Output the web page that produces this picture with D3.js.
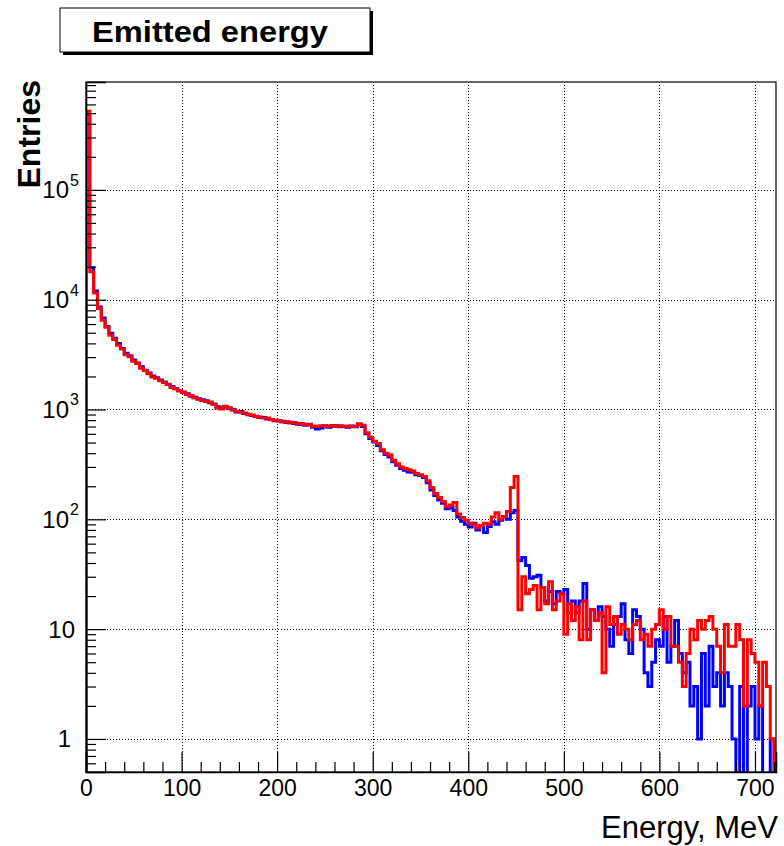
<!DOCTYPE html>
<html><head><meta charset="utf-8">
<script src="https://cdn.jsdelivr.net/npm/d3@7"></script>
<style>
body{margin:0;background:#fff;}
svg{display:block;font-family:"Liberation Sans",Arial,Helvetica,sans-serif;}
</style></head><body>
<div id="chart"></div>
<script>
// histogram contents, 4 MeV bins starting at 0
const binWidth=4;
const blueCounts=[
  490000,19500,12000,8600,6800,5700,4950,4450,4000,3600,3250,3080,2820,2650,2450,2280,2150,2020,1950,1860,
  1780,1700,1620,1550,1490,1440,1390,1320,1290,1250,
  1230,1200,1150,1120,1060,1040,1050,1020,1000,950,960,920,905,880,870,845,845,820,810,790,
  785,780,760,765,745,735,730,720,735,690,665,680,710,690,700,712,695,705,690,708,
  695,730,700,600,545,505,470,420,
  390,370,335,310,290,280,270,268,255,250,240,215,185,165,150,140,125,128,120,105,
  96,90,85,92,80,88,76,86,95,90,98,105,100,115,120,
  42,45,38,29,30,31,24,18,22,17,22,21,23,14,18,14,18,26,10,15,
  12,16,13,10,7,11,13,17,8,6,15,13,10,4,3,
  5,8,7,13,5,7,12,6,4,5,2,3,1,6,2,7,3,4,2,4,
  3,1,0,3,0,2,3,1,2,0,0,1,0
];
const redCounts=[
  520000,18000,11500,8300,6500,5600,4750,4350,3850,3550,3150,3020,2750,2620,2380,2260,2120,1980,1930,1830,
  1760,1690,1590,1540,1470,1430,1370,1340,1270,1240,
  1210,1180,1170,1110,1030,1010,1070,1040,985,965,945,930,895,890,865,855,835,835,805,800,
  795,770,775,755,760,740,745,730,725,705,700,712,708,705,715,700,712,702,705,700,
  703,742,720,615,560,515,490,430,
  400,385,345,320,300,290,282,275,262,255,245,225,195,172,158,145,130,135,142,112,
  104,98,92,90,84,88,92,90,105,115,100,106,118,195,245,
  15,30,21,23,25,15,24,17,27,15,18,21,9,17,12,16,8,18,8,15,
  12,14,4,16,11,13,9,11,10,8,11,12,8,9,7,
  10,11,15,10,13,7,7,5,3,6,10,8,12,10,12,13,10,7,4,11,
  7,7,11,8,2,8,6,5,2,5,3,1,0
];
const xMajor=[0,100,200,300,400,500,600,700];
const yDecades=[1,10,100,1000,10000,100000];

const W=784,H=846;
const m={l:86,r:776,t:82,b:772};
const svg=d3.select("#chart").append("svg").attr("width",W).attr("height",H);

const x=d3.scaleLinear().domain([0,722]).range([m.l,m.r]);
const y=d3.scaleLog().domain([0.5,9.6e5]).range([m.b,m.t]);

svg.append("defs").append("clipPath").attr("id","frame")
  .append("rect").attr("x",m.l).attr("y",m.t).attr("width",m.r-m.l).attr("height",m.b-m.t);

// dotted grid
const grid=svg.append("g").attr("stroke","#000").attr("stroke-width",1).attr("stroke-dasharray","1,2");
grid.selectAll(".vx").data(xMajor.slice(1)).join("line")
  .attr("x1",d=>Math.round(x(d))+.5).attr("x2",d=>Math.round(x(d))+.5)
  .attr("y1",m.t).attr("y2",m.b);
grid.selectAll(".hy").data(yDecades).join("line")
  .attr("y1",d=>Math.round(y(d))+.5).attr("y2",d=>Math.round(y(d))+.5)
  .attr("x1",m.l).attr("x2",m.r);

// step outlines, empty bins drop below the frame
const step=counts=>{
  const pts=[[x(0),m.b+10]];
  counts.forEach((v,i)=>{
    const yy=v>0?y(v):m.b+10;
    pts.push([x(i*binWidth),yy],[x((i+1)*binWidth),yy]);
  });
  pts.push([x(counts.length*binWidth),m.b+10]);
  return d3.line()(pts);
};
const plot=svg.append("g").attr("clip-path","url(#frame)");
plot.append("path").attr("d",step(blueCounts)).attr("fill","none")
  .attr("stroke","#0000ff").attr("stroke-width",3);
plot.append("path").attr("d",step(redCounts)).attr("fill","none")
  .attr("stroke","#ff0000").attr("stroke-width",3);

// frame
svg.append("rect").attr("x",m.l).attr("y",m.t).attr("width",m.r-m.l).attr("height",m.b-m.t)
  .attr("fill","none").attr("stroke","#000").attr("stroke-width",1.2);

// x axis, ticks pointing inside like ROOT
const xMinor=d3.range(0,722,20).filter(v=>v%100);
svg.append("g").attr("transform",`translate(0,${m.b})`)
  .call(d3.axisBottom(x).tickValues(xMinor).tickSize(-10).tickFormat(""))
  .call(g=>g.select(".domain").remove())
  .call(g=>g.selectAll("line").attr("stroke-width",1.2));
svg.append("g").attr("transform",`translate(0,${m.b})`)
  .call(d3.axisBottom(x).tickValues(xMajor).tickSize(-20).tickPadding(8).tickFormat(d3.format("d")))
  .call(g=>g.select(".domain").attr("stroke-width",1.6))
  .call(g=>g.selectAll("line").attr("stroke-width",1.2))
  .call(g=>g.selectAll("text").attr("font-size",23).attr("font-family","'Liberation Sans',Arial,sans-serif").attr("fill","#000"));

// y axis
const yMinor=[];
[-1,0,1,2,3,4,5].forEach(e=>[2,3,4,5,6,7,8,9].forEach(k=>{
  const v=k*Math.pow(10,e);
  if(v>0.55&&v<9.6e5) yMinor.push(v);
}));
svg.append("g").attr("transform",`translate(${m.l},0)`)
  .call(d3.axisLeft(y).tickValues(yMinor).tickSize(-10).tickFormat(""))
  .call(g=>g.select(".domain").remove())
  .call(g=>g.selectAll("line").attr("stroke-width",1.2));
svg.append("g").attr("transform",`translate(${m.l},0)`)
  .call(d3.axisLeft(y).tickValues(yDecades).tickSize(-20).tickFormat(""))
  .call(g=>g.select(".domain").attr("stroke-width",1.6))
  .call(g=>g.selectAll("line").attr("stroke-width",1.2));

const ylab=svg.append("g").attr("font-size",24).attr("fill","#000");
yDecades.forEach(d=>{
  const e=Math.round(Math.log10(d));
  if(e===0){
    ylab.append("text").attr("x",71).attr("y",y(d)+8.5).attr("text-anchor","end").text("1");
  }else if(e===1){
    ylab.append("text").attr("x",75).attr("y",y(d)+8.5).attr("text-anchor","end").text("10");
  }else{
    ylab.append("text").attr("x",69).attr("y",y(d)+8.5).attr("text-anchor","end").text("10");
    ylab.append("text").attr("x",70).attr("y",y(d)-4).attr("font-size",16).text(e);
  }
});

// titles
svg.append("text").attr("x",778).attr("y",838).attr("text-anchor","end")
  .attr("font-size",31).text("Energy, MeV");
svg.append("text").attr("transform","translate(40,80) rotate(-90)").attr("text-anchor","end")
  .attr("font-size",32).attr("font-weight","bold").text("Entries");

const tb=svg.append("g");
tb.append("rect").attr("x",63).attr("y",11).attr("width",310).attr("height",44).attr("fill","#000");
tb.append("rect").attr("x",60).attr("y",8).attr("width",310).attr("height",44)
  .attr("fill","#fff").attr("stroke","#000").attr("stroke-width",1);
tb.append("text").attr("x",92).attr("y",42)
  .attr("font-size",30).attr("font-weight","bold")
  .attr("textLength",236).attr("lengthAdjust","spacingAndGlyphs").text("Emitted energy");
</script>
</body></html>
